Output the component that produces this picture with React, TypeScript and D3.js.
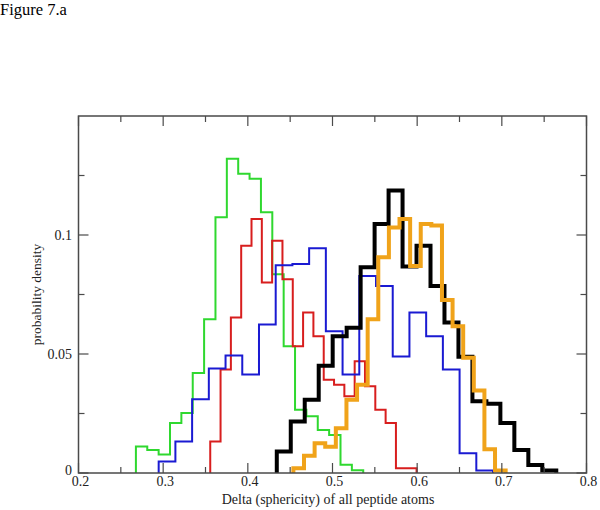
import { useEffect, useRef } from "react";
import * as d3 from "d3";

// axis ticks
const X_TICKS = [0.2, 0.3, 0.4, 0.5, 0.6, 0.7, 0.8];
const X_MINOR = [0.25, 0.35, 0.45, 0.55, 0.65, 0.75];
const Y_TICKS = [0, 0.05, 0.1];
const Y_MINOR = [0.025, 0.075, 0.125];

// each histogram: [first bin edge, last bin edge] and 20 bin densities
const greenRange = [0.2678, 0.5363];
const greenDensity = [
  0.0111, 0.0097, 0.0078, 0.021, 0.0252, 0.042, 0.0646, 0.1075, 0.132, 0.1257,
  0.1236, 0.1096, 0.0835, 0.0533, 0.0266, 0.0238, 0.0181, 0.016, 0.0035, 0.0012,
];

const redRange = [0.3556, 0.5993];
const redDensity = [
  0.0132, 0.0435, 0.0653, 0.0955, 0.1067, 0.08, 0.0976, 0.0814, 0.0533, 0.0674,
  0.0575, 0.0392, 0.0371, 0.0322, 0.047, 0.0364, 0.0266, 0.021, 0.002, 0.002,
];

const blueRange = [0.2947, 0.6896];
const blueDensity = [
  0.0048, 0.0132, 0.031, 0.0439, 0.0494, 0.0414, 0.0624, 0.0873, 0.0878, 0.0944,
  0.0596, 0.0414, 0.0828, 0.0786, 0.049, 0.0674, 0.0575, 0.0435, 0.0083, 0.001,
];

const blackRange = [0.4342, 0.7643];
const blackDensity = [
  0.009, 0.0216, 0.0308, 0.0451, 0.0575, 0.061, 0.0864, 0.1046, 0.1187, 0.0868,
  0.0955, 0.0786, 0.0632, 0.0488, 0.0301, 0.0291, 0.021, 0.0097, 0.0034, 0.001,
];

const orangeRange = [0.4538, 0.7045];
const orangeDensity = [
  0.002, 0.0072, 0.0125, 0.011, 0.0188, 0.0308, 0.0371, 0.0646, 0.0906, 0.1032,
  0.1067, 0.087, 0.1046, 0.104, 0.0727, 0.0617, 0.0484, 0.0347, 0.01, 0.001,
];

const series = [
  { range: greenRange, values: greenDensity, color: "#2fd82f", width: 2 },
  { range: redRange, values: redDensity, color: "#d81e1e", width: 2 },
  { range: blueRange, values: blueDensity, color: "#1a1ad2", width: 2 },
  { range: blackRange, values: blackDensity, color: "#000000", width: 4 },
  { range: orangeRange, values: orangeDensity, color: "#f0a31a", width: 4 },
];

const FONT = "'Liberation Serif', 'Times New Roman', serif";

export default function App() {
  const ref = useRef<SVGSVGElement>(null);

  useEffect(() => {
    if (!ref.current) return;
    const svg = d3.select(ref.current);
    svg.selectAll("*").remove();

    const left = 78.5;
    const right = 586.5;
    const top = 116;
    const bottom = 473;

    const x = d3.scaleLinear().domain([0.2, 0.8]).range([left, right]);
    const y = d3.scaleLinear().domain([0, 0.15]).range([bottom, top]);

    // title
    svg
      .append("text")
      .attr("x", 0)
      .attr("y", 15)
      .attr("font-family", FONT)
      .attr("font-size", 16.5)
      .text("Figure 7.a");

    // histograms
    const line = d3
      .line<[number, number]>()
      .x((d) => x(d[0]))
      .y((d) => y(d[1]));

    series.forEach((s) => {
      const [lo, hi] = s.range;
      const w = (hi - lo) / s.values.length;
      const pts: [number, number][] = [[lo, 0]];
      s.values.forEach((v, i) => {
        pts.push([lo + i * w, v]);
        pts.push([lo + (i + 1) * w, v]);
      });
      pts.push([hi, 0]);
      svg
        .append("path")
        .datum(pts)
        .attr("fill", "none")
        .attr("stroke", s.color)
        .attr("stroke-width", s.width)
        .attr("stroke-linejoin", "miter")
        .attr("d", line);
    });

    // frame
    const frameColor = "#4a4a4a";
    svg
      .append("rect")
      .attr("x", left)
      .attr("y", top)
      .attr("width", right - left)
      .attr("height", bottom - top)
      .attr("fill", "none")
      .attr("stroke", frameColor)
      .attr("stroke-width", 1.5);

    const ticks = svg.append("g").attr("stroke", frameColor).attr("stroke-width", 1.2);
    const xTick = (v: number, len: number) => {
      ticks.append("line").attr("x1", x(v)).attr("x2", x(v)).attr("y1", bottom).attr("y2", bottom - len);
      ticks.append("line").attr("x1", x(v)).attr("x2", x(v)).attr("y1", top).attr("y2", top + len);
    };
    const yTick = (v: number, len: number) => {
      ticks.append("line").attr("y1", y(v)).attr("y2", y(v)).attr("x1", left).attr("x2", left + len);
      ticks.append("line").attr("y1", y(v)).attr("y2", y(v)).attr("x1", right).attr("x2", right - len);
    };
    X_TICKS.forEach((v) => xTick(v, 10));
    X_MINOR.forEach((v) => xTick(v, 6));
    Y_TICKS.forEach((v) => yTick(v, 10));
    Y_MINOR.forEach((v) => yTick(v, 6));

    // tick labels
    svg
      .append("g")
      .selectAll("text")
      .data(X_TICKS)
      .join("text")
      .attr("x", (d) => x(d) + 2)
      .attr("y", 486)
      .attr("text-anchor", "middle")
      .attr("font-family", FONT)
      .attr("font-size", 14)
      .attr("fill", "#222")
      .text((d) => d3.format(".1f")(d));

    svg
      .append("g")
      .selectAll("text")
      .data(Y_TICKS)
      .join("text")
      .attr("x", 72)
      .attr("y", (d) => y(d) + 5 - (d === 0 ? 3 : 0))
      .attr("text-anchor", "end")
      .attr("font-family", FONT)
      .attr("font-size", 14)
      .attr("fill", "#222")
      .text((d) => (d === 0 ? "0" : String(d)));

    // axis titles
    svg
      .append("text")
      .attr("x", 328)
      .attr("y", 504)
      .attr("text-anchor", "middle")
      .attr("font-family", FONT)
      .attr("font-size", 14)
      .attr("fill", "#222")
      .text("Delta (sphericity) of all peptide atoms");

    svg
      .append("text")
      .attr("transform", `translate(41,${(top + bottom) / 2}) rotate(-90)`)
      .attr("text-anchor", "middle")
      .attr("font-family", FONT)
      .attr("font-size", 13.5)
      .attr("fill", "#222")
      .text("probability density");
  }, []);

  return (
    <svg
      ref={ref}
      width={600}
      height={510}
      style={{ position: "absolute", left: 0, top: 0, background: "#fff" }}
    />
  );
}
